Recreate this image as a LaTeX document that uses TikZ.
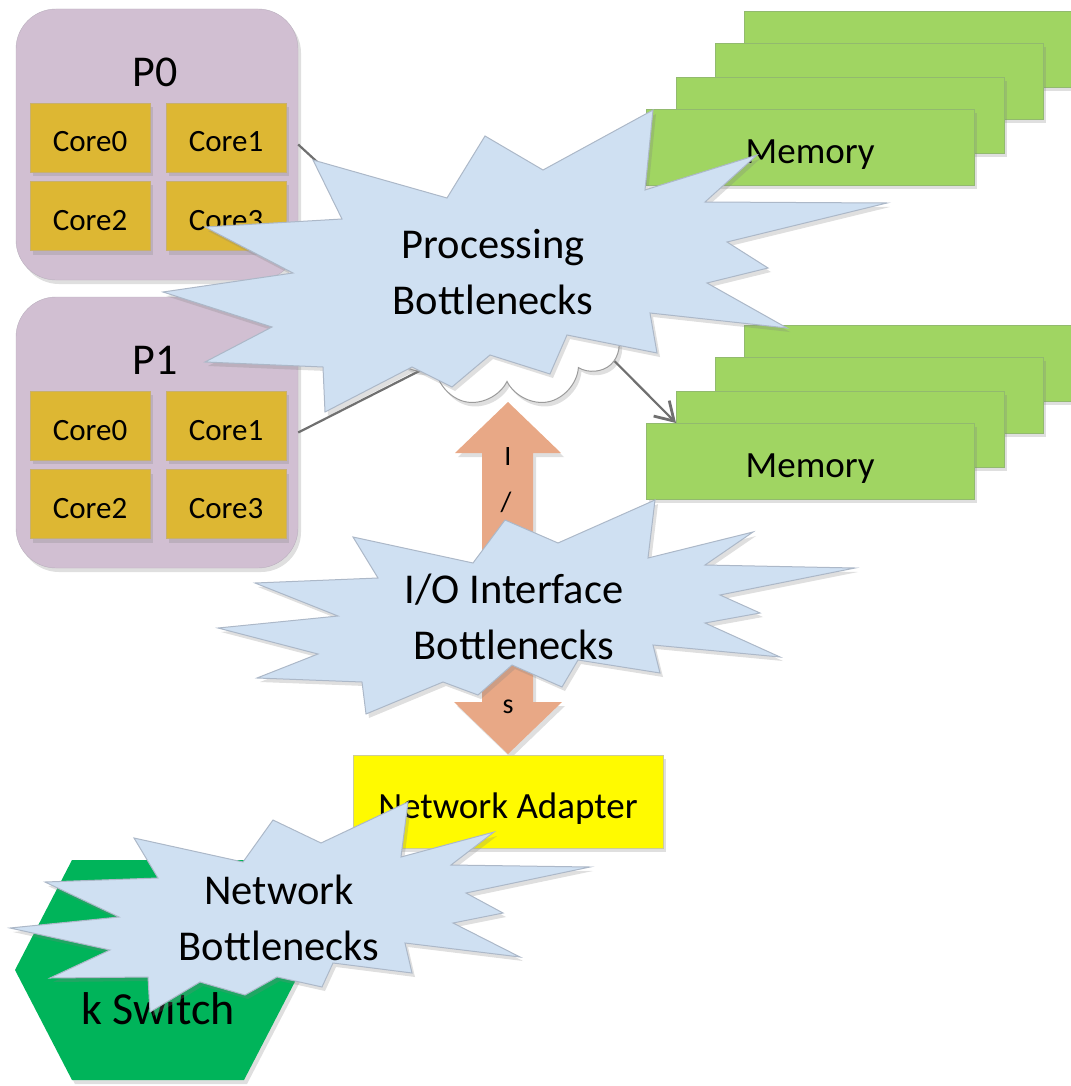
\documentclass[tikz,border=0pt]{standalone}
\usepackage{fontspec}
\setmainfont{Carlito}
\usetikzlibrary{shapes.symbols,shadows,calc,arrows.meta}

\definecolor{procfill}{RGB}{209,191,210}
\definecolor{procline}{RGB}{186,176,190}
\definecolor{corefill}{RGB}{221,183,51}
\definecolor{coreline}{RGB}{200,176,110}
\definecolor{memfill}{RGB}{160,213,98}
\definecolor{memline}{RGB}{146,186,110}
\definecolor{burstfill}{RGB}{207,224,242}
\definecolor{burstline}{RGB}{172,184,200}
\definecolor{iofill}{RGB}{232,168,134}
\definecolor{nicfill}{RGB}{255,250,0}
\definecolor{nicline}{RGB}{205,205,150}
\definecolor{switchfill}{RGB}{0,180,90}
\definecolor{linkgray}{RGB}{112,112,112}

\begin{document}
\begin{tikzpicture}[x=1pt,y=-1pt,
    shade/.style={drop shadow={opacity=0.25,shadow xshift=3pt,shadow yshift=-4pt}},
    procbox/.style={draw=procline,fill=procfill,rounded corners=40pt,minimum width=282pt,minimum height=271pt,shade},
    ptitle/.style={font=\fontsize{44}{52}\selectfont},
    corebox/.style={draw=coreline,fill=corefill,minimum width=120pt,minimum height=69pt,
        text height=29pt,text depth=0pt,font=\fontsize{31}{37}\selectfont,shade},
    membox/.style={draw=memline,fill=memfill,minimum width=328pt,minimum height=76pt,
        text height=32pt,text depth=0pt,font=\fontsize{37}{44}\selectfont,shade},
    burst/.style={draw=burstline,fill=burstfill,line width=1pt,shade},
    bursttext/.style={align=center,font=\fontsize{42.5}{56}\selectfont},
    iotext/.style={font=\fontsize{28}{34}\selectfont},
    link/.style={draw=linkgray,line width=2.2pt}]
    \useasboundingbox (0,0) rectangle (1070,1086);
    % processors
    \foreach \p/\dy in {0/0,1/288} {
        \node[procbox] (p\p) at (157,144.5+\dy) {};
        \node[ptitle] (p\p-t) at (155,72+\dy) {P\p};
        \node[corebox] (core\p-0) at (90,137.5+\dy) {Core0};
        \node[corebox] (core\p-1) at (226,137.5+\dy) {Core1};
        \node[corebox] (core\p-2) at (90,216+\dy) {Core2};
        \node[corebox] (core\p-3) at (226,216+\dy) {Core3};
    }
    % memory banks
    \foreach \m/\dy in {0/0,1/314} {
        \foreach \k/\x/\y in {3/744/11,2/715/43,1/676/77}
            \node[membox,anchor=north west] (mem\m-\k) at (\x,\y+\dy) {};
        \node[membox,anchor=north west] (mem\m) at (646,109+\dy) {Memory};
    }
    \coordinate (hub) at (500,330);
    \draw[link] (p0.east) -- (hub);
    \draw[link] (p1.east) -- (hub);
    \node[cloud,cloud puffs=9,aspect=1.5,draw=linkgray!70,fill=white,line width=1pt,
          minimum width=240pt,minimum height=170pt,shade] (bus) at (507,322) {};
    \draw[link,-{Straight Barb[length=18pt,width=22pt,line width=2.8pt]}] (bus.-20) -- ($(mem1.north west)+(30,0)$);
    % I/O arrow
    \draw[fill=iofill,draw=none,shade] (508,402) -- (561,453) -- (533,453) -- (533,702) -- (562,702)
        -- (508,754) -- (454,702) -- (482,702) -- (482,453) -- (455,453) -- cycle;
    \node[iotext] (io1) at (508,457) {I};
    \node[iotext] (io2) at (506,502) {/};
    \node[iotext] (io3) at (508,707) {s};
    \node[draw=nicline,fill=nicfill,minimum width=310pt,minimum height=93pt,text height=33pt,text depth=0pt,
          font=\fontsize{37}{44}\selectfont,shade] (nic) at (508,801.5) {Network Adapter};
    % switch
    \draw[fill=switchfill,draw=none,shade] (72,860) -- (244,860) -- (301,970) -- (244,1080)
        -- (72,1080) -- (15,970) -- cycle;
    \node[font=\fontsize{46}{55}\selectfont] (switch) at (158,1009) {k Switch};
    % bottlenecks
    \draw[burst] (313,160) -- (447,198) -- (485,136) -- (543,170) -- (653,110) -- (645,190)
        -- (757,155) -- (705,202) -- (887,203) -- (727,242) -- (768,268) -- (707,283)
        -- (787,328) -- (650,313) -- (657,353) -- (567,335) -- (550,374) -- (490,355)
        -- (452,387) -- (412,367) -- (325,412) -- (323,367) -- (205,362) -- (272,327)
        -- (163,292) -- (293,273) -- (205,227) -- (342,219) -- cycle;
    \node[bursttext] (procneck) at (493,272) {Processing\\Bottlenecks};
    \draw[burst] (505,520) -- (558,543) -- (655,500) -- (648,558) -- (753,532) -- (705,565)
        -- (855,568) -- (720,595) -- (760,613) -- (705,623) -- (780,657) -- (653,645)
        -- (660,673) -- (578,660) -- (562,687) -- (512,665) -- (478,695) -- (443,682)
        -- (366,714) -- (362,682) -- (257,678) -- (318,654) -- (218,628) -- (338,616)
        -- (255,583) -- (378,578) -- (353,537) -- (473,563) -- cycle;
    \node[bursttext] (ioneck) at (514,617) {I/O Interface\\Bottlenecks};
    \draw[burst] (134,838) -- (243,862) -- (273,820) -- (321,843) -- (408,802) -- (401,857)
        -- (494,832) -- (451,865) -- (590,867) -- (466,893) -- (503,913) -- (453,923)
        -- (520,957) -- (405,943) -- (412,973) -- (333,963) -- (322,987) -- (277,977)
        -- (245,995) -- (200,982) -- (150,1012) -- (148,977) -- (50,978) -- (110,950)
        -- (10,928) -- (119,917) -- (45,882) -- (158,878) -- cycle;
    \node[bursttext] (netneck) at (279,918) {Network\\Bottlenecks};
\end{tikzpicture}
\end{document}
